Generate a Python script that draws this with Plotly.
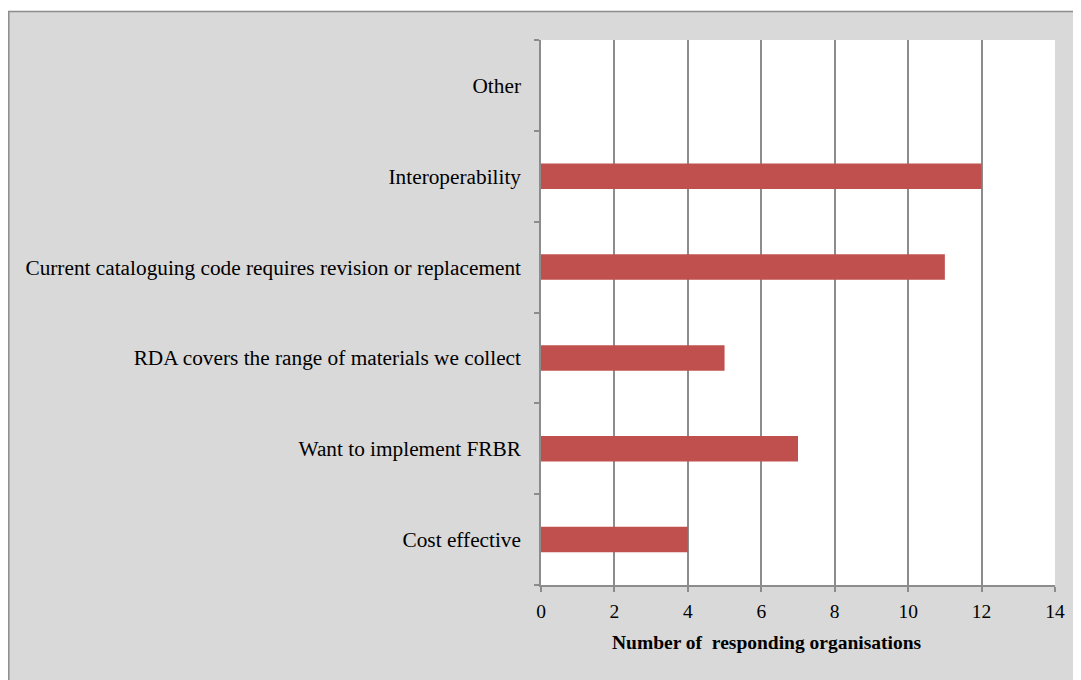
import plotly.graph_objects as go

categories = [
    "Cost effective",
    "Want to implement FRBR",
    "RDA covers the range of materials we collect",
    "Current cataloguing code requires revision or replacement",
    "Interoperability",
    "Other",
]
values = [4, 7, 5, 11, 12, 0]
x_ticks = [0, 2, 4, 6, 8, 10, 12, 14]
x_title = "Number of  responding organisations"

# page has an 8px body margin, so the figure is 8px smaller
W, H = 1073, 672
L, R, T, B = 533, 26, 32, 95
pw = W - L - R
ph = H - T - B

def px_x(p):
    return (p - L) / pw

def px_y(p):
    return 1 - (p - T) / ph

font = "Liberation Serif, Times New Roman, serif"
grey = "#8c8c8c"

fig = go.Figure(go.Bar(
    x=values, y=categories, orientation="h",
    marker=dict(color="#c0504d", line=dict(width=0)),
    width=0.28,
    hoverinfo="x+y",
))

shapes = [
    dict(type="rect", xref="paper", yref="paper", layer="below",
         x0=px_x(-5), x1=px_x(W + 5), y0=px_y(3), y1=px_y(-5),
         fillcolor="white", line=dict(width=0)),
    dict(type="line", xref="paper", yref="paper",
         x0=px_x(0), x1=px_x(W + 5), y0=px_y(3.5), y1=px_y(3.5),
         line=dict(color=grey, width=1.5)),
    dict(type="line", xref="paper", yref="paper",
         x0=px_x(0.8), x1=px_x(0.8), y0=px_y(3), y1=px_y(H + 5),
         line=dict(color=grey, width=1.5)),
]

fig.update_layout(
    width=W, height=H,
    margin=dict(l=L, r=R, t=T, b=B, pad=0),
    paper_bgcolor="#d9d9d9",
    plot_bgcolor="white",
    showlegend=False,
    font=dict(family=font, size=19, color="black"),
    shapes=shapes,
    annotations=[dict(
        text="<b>" + x_title + "</b>", xref="paper", yref="paper",
        x=px_x(759), y=px_y(634), xanchor="center", yanchor="middle",
        showarrow=False, font=dict(family=font, size=19.5),
    )],
    xaxis=dict(
        range=[0, 14], tickvals=x_ticks, ticktext=[str(v) for v in x_ticks],
        showgrid=True, gridcolor=grey, gridwidth=1.5,
        showline=True, linecolor=grey, linewidth=1.5,
        ticks="outside", ticklen=5, tickcolor=grey, tickwidth=1.5,
        zeroline=False,
        ticklabelstandoff=3,
        tickfont=dict(family=font, size=19.5),
    ),
    yaxis=dict(
        categoryorder="array", categoryarray=categories,
        showgrid=False,
        showline=True, linecolor=grey, linewidth=1.5,
        ticks="outside", ticklen=5, tickcolor=grey, tickwidth=1.5,
        tickson="boundaries",
        ticklabelstandoff=14,
        tickfont=dict(family=font, size=21.3),
    ),
)

fig.write_html("out.html")
